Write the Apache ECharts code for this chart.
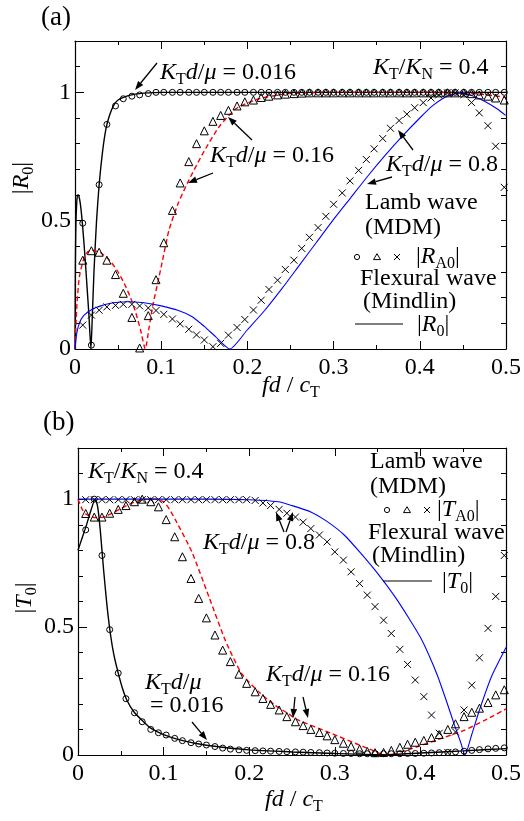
<!DOCTYPE html>
<html><head><meta charset="utf-8">
<script src="https://cdn.jsdelivr.net/npm/echarts@6/dist/echarts.min.js"></script>
<style>html,body{margin:0;padding:0;background:#fff}#c{width:524px;height:821px}</style>
</head><body><div id="c"></div>
<script>
// ---------- DATA ----------
// Lamb-wave (MDM) sampling of fd/cT
const fdLamb = [0.009,0.019,0.028,0.037,0.047,0.056,0.066,0.075,0.085,0.094,0.103,0.113,0.122,0.132,0.141,0.150,0.160,0.169,0.178,0.188,0.197,0.207,0.216,0.225,0.235,0.244,0.254,0.263,0.272,0.282,0.291,0.300,0.310,0.319,0.329,0.338,0.347,0.357,0.366,0.376,0.385,0.394,0.404,0.413,0.422,0.432,0.441,0.451,0.460,0.469,0.479,0.488,0.498];
// (a) |R_A0|
const aCircle = [0.49,0.015,0.64,0.875,0.947,0.975,0.985,0.99,0.995,1,1,1,1,1,1,1,1,1,1,1,1,1,1,1,1,1,1,1,1,1,1,1,1,1,1,1,1,1,1,1,1,1,1,1,1,1,1,1,1,1,1,1,1];
const aTriangle = [0.346,0.383,0.377,0.346,0.29,0.217,0.123,0.004,0.13,0.27,0.414,0.54,0.647,0.73,0.80,0.85,0.887,0.91,0.93,0.947,0.963,0.97,0.98,0.985,0.99,0.993,0.995,0.997,0.998,0.998,0.998,0.998,0.998,0.998,0.998,0.998,0.998,0.998,0.998,0.998,0.998,0.998,0.998,0.998,0.998,0.998,0.998,0.998,0.995,0.99,0.985,0.978,0.97];
const aCross = [0.093,0.132,0.151,0.164,0.17,0.174,0.174,0.168,0.16,0.15,0.135,0.117,0.098,0.077,0.055,0.035,0.009,0.022,0.054,0.084,0.115,0.152,0.19,0.232,0.268,0.31,0.346,0.392,0.435,0.473,0.517,0.564,0.608,0.655,0.696,0.738,0.78,0.82,0.86,0.89,0.915,0.94,0.96,0.978,0.99,0.998,0.998,0.99,0.96,0.92,0.87,0.79,0.63];
// (b) |T_A0|
const bCircle = [0.88,1.0,0.78,0.49,0.32,0.22,0.165,0.13,0.10,0.087,0.078,0.065,0.056,0.048,0.043,0.039,0.033,0.027,0.023,0.02,0.018,0.017,0.016,0.015,0.014,0.013,0.012,0.011,0.01,0.009,0.008,0.007,0.006,0.006,0.005,0.005,0.005,0.005,0.005,0.005,0.006,0.006,0.007,0.008,0.009,0.01,0.012,0.015,0.018,0.021,0.024,0.026,0.028];
const bTriangle = [0.944,0.93,0.93,0.945,0.96,0.975,0.99,1.0,0.99,0.97,0.92,0.853,0.775,0.69,0.612,0.536,0.469,0.41,0.365,0.316,0.28,0.247,0.221,0.198,0.176,0.15,0.13,0.115,0.1,0.088,0.075,0.06,0.046,0.034,0.023,0.014,0.009,0.01,0.018,0.03,0.042,0.05,0.057,0.068,0.08,0.1,0.122,0.15,0.167,0.183,0.205,0.235,0.255];
const bCross = [0.998,0.998,0.998,0.998,0.998,0.998,0.998,0.998,0.998,0.998,0.998,0.998,0.998,0.998,0.998,0.998,0.998,0.998,0.998,0.998,0.998,0.995,0.985,0.975,0.96,0.945,0.93,0.91,0.885,0.86,0.833,0.794,0.762,0.716,0.67,0.625,0.58,0.527,0.475,0.413,0.354,0.293,0.228,0.156,0.085,0.01,0.09,0.176,0.273,0.38,0.495,0.62,0.78];

// Flexural wave (Mindlin) curves
const aLine016X = [0,0.0005,0.001,0.002,0.003,0.004,0.006,0.008,0.010,0.012,0.014,0.016,0.0185,0.020,0.022,0.025,0.028,0.032,0.036,0.040,0.045,0.050,0.060,0.070,0.080,0.100,0.150,0.200,0.300,0.400,0.500];
const aLine016Y = [0,0.35,0.48,0.57,0.6,0.6,0.57,0.51,0.43,0.34,0.24,0.14,0,0.12,0.3,0.5,0.64,0.77,0.86,0.91,0.95,0.97,0.985,0.993,0.997,1,1,1,1,1,1];
const aLine016bX = [0,0.002,0.005,0.01,0.015,0.02,0.03,0.04,0.05,0.059,0.065,0.0707,0.076,0.0815,0.086,0.09,0.1,0.109,0.12,0.132,0.148,0.167,0.187,0.2135,0.248,0.3,0.4,0.45,0.47,0.49,0.5];
const aLine016bY = [0,0.16,0.28,0.35,0.38,0.385,0.375,0.346,0.3,0.242,0.195,0.139,0.075,0,0.085,0.165,0.32,0.463,0.57,0.657,0.76,0.865,0.937,0.975,0.995,1,1,0.998,0.993,0.985,0.98];
const aLine08X = [0,0.002,0.005,0.01,0.02,0.03,0.04,0.05,0.06,0.08,0.1,0.12,0.136,0.15,0.163,0.1796,0.2,0.22,0.24,0.26,0.28,0.3,0.32,0.34,0.36,0.38,0.4,0.415,0.43,0.445,0.46,0.475,0.49,0.4995];
const aLine08Y = [0,0.06,0.1,0.13,0.155,0.168,0.177,0.182,0.184,0.18,0.168,0.15,0.126,0.088,0.048,0,0.075,0.15,0.235,0.325,0.415,0.505,0.59,0.675,0.755,0.83,0.9,0.948,0.982,0.997,0.988,0.965,0.935,0.91];
const bLine016X = [0,0.005,0.01,0.015,0.02,0.023,0.026,0.03,0.034,0.038,0.042,0.047,0.052,0.057,0.065,0.075,0.085,0.1,0.12,0.15,0.2,0.25,0.3,0.36,0.4,0.45,0.5];
const bLine016Y = [0.8,0.85,0.9,0.955,1.0,0.97,0.88,0.72,0.58,0.47,0.39,0.32,0.26,0.215,0.17,0.135,0.105,0.08,0.058,0.038,0.02,0.012,0.006,0.001,0.008,0.016,0.025];
const bLine016bX = [0,0.005,0.01,0.02,0.03,0.04,0.05,0.06,0.07,0.08,0.09,0.1,0.107,0.114,0.133,0.153,0.172,0.191,0.211,0.23,0.245,0.257,0.2955,0.334,0.361,0.39,0.42,0.45,0.475,0.5];
const bLine016bY = [1.0,0.96,0.94,0.928,0.93,0.945,0.963,0.98,0.993,1.0,1.0,0.99,0.96,0.918,0.794,0.618,0.449,0.319,0.247,0.195,0.163,0.137,0.085,0.032,0,0.025,0.06,0.095,0.135,0.18];
const bLine08X = [0,0.05,0.1,0.15,0.2,0.234,0.25,0.272,0.29,0.311,0.33,0.35,0.37,0.388,0.4,0.41,0.42,0.43,0.44,0.447,0.452,0.46,0.469,0.483,0.5];
const bLine08Y = [1.0,1.0,1.0,1.0,0.998,0.99,0.975,0.95,0.915,0.86,0.79,0.71,0.62,0.527,0.46,0.39,0.31,0.215,0.115,0.05,0.0,0.08,0.176,0.306,0.42];

const xTickLabels = ['0','0.1','0.2','0.3','0.4','0.5'];
const yTickLabels = ['0','0.5','1'];

// ---------- CHART ----------
const SERIF = "'Liberation Serif','Times New Roman',serif";
const zip = (xs, ys) => xs.map((x, i) => [x, ys[i]]);
const chart = echarts.init(document.getElementById('c'), null, {renderer: 'canvas'});

const grids = [
  {left: 75, top: 41, width: 432, height: 308},
  {left: 78, top: 448, width: 432, height: 307}
];
function fmtX(v) { const s = (Math.round(v * 10) / 10).toString(); return xTickLabels.indexOf(s) >= 0 ? s : ''; }
function fmtY(v) { const r = Math.round(v * 10) / 10; const s = r.toString(); return yTickLabels.indexOf(s) >= 0 ? s : ''; }

const TICKFS = 24;
const xAxes = [], yAxes = [];
grids.forEach((g, gi) => {
  ['bottom', 'top'].forEach(pos => {
    xAxes.push({
      gridIndex: gi, type: 'value', position: pos, min: 0, max: 0.5, interval: 0.1,
      axisLine: {show: true, onZero: false, lineStyle: {color: '#000', width: 1.2}},
      axisTick: {show: true, inside: true, length: 8, lineStyle: {color: '#000', width: 1}},
      minorTick: {show: true, splitNumber: 2, length: 4, lineStyle: {color: '#000', width: 1}},
      splitLine: {show: false}, minorSplitLine: {show: false},
      axisLabel: {show: pos === 'bottom', formatter: fmtX, fontFamily: SERIF, fontSize: TICKFS, color: '#000', margin: 7}
    });
  });
  yAxes.push({
    gridIndex: gi, type: 'value', position: 'left', min: 0, max: 1.2, interval: 0.1,
    axisLine: {show: true, onZero: false, lineStyle: {color: '#000', width: 1.2}},
    axisTick: {show: true, inside: true, length: 5, lineStyle: {color: '#000', width: 1}},
    splitLine: {show: false},
    axisLabel: {show: true, formatter: fmtY, fontFamily: SERIF, fontSize: TICKFS, color: '#000', margin: 4}
  });
  yAxes.push({
    gridIndex: gi, type: 'value', position: 'left', min: 0, max: 1.2, interval: 0.5,
    axisLine: {show: false},
    axisTick: {show: true, inside: true, length: 9, lineStyle: {color: '#000', width: 1}},
    splitLine: {show: false}, axisLabel: {show: false}
  });
  yAxes.push({
    gridIndex: gi, type: 'value', position: 'right', min: 0, max: 1.2, interval: 0.1,
    axisLine: {show: true, onZero: false, lineStyle: {color: '#000', width: 1.2}},
    axisTick: {show: true, inside: true, length: 5, lineStyle: {color: '#000', width: 1}},
    splitLine: {show: false}, axisLabel: {show: false}
  });
});

const crossPath = 'path://M0,0L10,10M10,0L0,10';
function lineS(gi, xs, ys, color, type, width) {
  return {type: 'line', xAxisIndex: gi * 2, yAxisIndex: gi * 3, data: zip(xs, ys), showSymbol: false,
    smooth: 0.2, lineStyle: {color: color, width: width, type: type}, z: 2, clip: true};
}
function scat(gi, ys, symbol, size) {
  return {type: 'scatter', xAxisIndex: gi * 2, yAxisIndex: gi * 3, data: zip(fdLamb, ys), symbol: symbol, symbolSize: size,
    itemStyle: {color: 'rgba(0,0,0,0)', borderColor: '#000', borderWidth: 1, opacity: 1}, z: 3, clip: false};
}
const series = [
  lineS(0, aLine016X, aLine016Y, '#000', 'solid', 1.4),
  lineS(0, aLine016bX, aLine016bY, '#ff0000', [5, 3], 1.4),
  lineS(0, aLine08X, aLine08Y, '#0000ff', 'solid', 1.1),
  scat(0, aCircle, 'circle', 6),
  scat(0, aTriangle, 'triangle', 8),
  scat(0, aCross, crossPath, 7),
  lineS(1, bLine016X, bLine016Y, '#000', 'solid', 1.4),
  lineS(1, bLine016bX, bLine016bY, '#ff0000', [5, 3], 1.4),
  lineS(1, bLine08X, bLine08Y, '#0000ff', 'solid', 1.1),
  scat(1, bCircle, 'circle', 6),
  scat(1, bTriangle, 'triangle', 8),
  scat(1, bCross, crossPath, 7)
];

// ---------- TEXT / ANNOTATIONS ----------
function rich(fs) {
  const sub = Math.round(fs * 0.66);
  return {
    i: {fontFamily: SERIF, fontStyle: 'italic', fontSize: fs, fill: '#000'},
    r: {fontFamily: SERIF, fontSize: fs, fill: '#000'},
    s: {fontFamily: SERIF, fontSize: sub, fill: '#000', padding: [Math.round(fs * 0.55), 0, 0, 0]}
  };
}
function txt(x, y, text, fs, align, rot) {
  return {type: 'text', x: x, y: y, rotation: rot || 0, z: 100,
    style: {text: text, fontFamily: SERIF, fontSize: fs, fill: '#000', rich: rich(fs),
      align: align || 'left', verticalAlign: 'middle', textAlign: align || 'left', textVerticalAlign: 'middle'}};
}
function arrow(x1, y1, x2, y2) {
  const a = Math.atan2(y2 - y1, x2 - x1), L = 9, W = 3.3;
  const c = Math.cos(a), s = Math.sin(a);
  const bx = x2 - L * c, by = y2 - L * s;
  return [
    {type: 'line', z: 100, shape: {x1: x1, y1: y1, x2: bx, y2: by}, style: {stroke: '#000', lineWidth: 1.3}},
    {type: 'polygon', z: 100, shape: {points: [[x2, y2], [bx + W * s, by - W * c], [bx - W * s, by + W * c]]}, style: {fill: '#000'}}
  ];
}
function legendMarks(cx1, cx2, cx3, cy) {
  return [
    {type: 'circle', z: 100, shape: {cx: cx1, cy: cy, r: 2.6}, style: {fill: 'none', stroke: '#000', lineWidth: 1}},
    {type: 'polygon', z: 100, shape: {points: [[cx2, cy - 3.3], [cx2 + 3.5, cy + 2.6], [cx2 - 3.5, cy + 2.6]]}, style: {fill: 'none', stroke: '#000', lineWidth: 1}},
    {type: 'line', z: 100, shape: {x1: cx3 - 3, y1: cy - 3, x2: cx3 + 3, y2: cy + 3}, style: {stroke: '#000', lineWidth: 1}},
    {type: 'line', z: 100, shape: {x1: cx3 - 3, y1: cy + 3, x2: cx3 + 3, y2: cy - 3}, style: {stroke: '#000', lineWidth: 1}}
  ];
}
const FS = 24;
const KD = '{i|K}{s|T}{i|d}{r|/}{i|μ}';
const graphics = [
  txt(41, 18, '(a)', 27),
  txt(43, 423, '(b)', 27),
  txt(22, 178, '|{i|R}{s|0}|', FS, 'center', Math.PI / 2),
  txt(25, 598, '|{i|T}{s|0}|', FS, 'center', Math.PI / 2),
  txt(291, 386, '{i|fd} / {i|c}{s|T}', FS, 'center'),
  txt(294, 800, '{i|fd} / {i|c}{s|T}', FS, 'center'),
  // panel (a)
  txt(160, 73, KD + '{r| = 0.016}', FS),
  txt(373, 68, '{i|K}{s|T}{r|/}{i|K}{s|N}{r| = 0.4}', FS),
  txt(210, 156, KD + '{r| = 0.16}', FS),
  txt(386, 165, KD + '{r| = 0.8}', FS),
  txt(365, 203, 'Lamb wave', FS),
  txt(365, 228, '(MDM)', FS),
  txt(416, 257, '|{i|R}{s|A0}|', FS),
  txt(360, 279, 'Flexural wave', FS),
  txt(363, 302, '(Mindlin)', FS),
  txt(417, 325, '|{i|R}{s|0}|', FS),
  {type: 'line', z: 100, shape: {x1: 355, y1: 324, x2: 403, y2: 324}, style: {stroke: '#000', lineWidth: 1.2}},
  // panel (b)
  txt(88, 472, '{i|K}{s|T}{r|/}{i|K}{s|N}{r| = 0.4}', FS),
  txt(203, 543, KD + '{r| = 0.8}', FS),
  txt(145, 683, KD, FS),
  txt(150, 706, '= 0.016', FS),
  txt(266, 675, KD + '{r| = 0.16}', FS),
  txt(370, 462, 'Lamb wave', FS),
  txt(370, 487, '(MDM)', FS),
  txt(437, 510, '|{i|T}{s|A0}|', FS),
  txt(368, 533, 'Flexural wave', FS),
  txt(372, 556, '(Mindlin)', FS),
  txt(442, 582, '|{i|T}{s|0}|', FS),
  {type: 'line', z: 100, shape: {x1: 383, y1: 581, x2: 432, y2: 581}, style: {stroke: '#000', lineWidth: 1.2}}
].concat(
  legendMarks(357, 377, 397, 257),
  legendMarks(387, 407, 427, 510),
  arrow(157, 63, 135, 90),
  arrow(252, 140, 228, 117),
  arrow(213, 173, 188, 183),
  arrow(413, 150, 398, 130),
  arrow(392, 177, 367, 184),
  arrow(284, 532, 276, 512),
  arrow(286, 532, 293, 512),
  arrow(192, 722, 207, 740),
  arrow(295, 697, 293, 718),
  arrow(303, 697, 308, 718)
);

chart.setOption({
  animation: false,
  backgroundColor: '#fff',
  textStyle: {fontFamily: SERIF},
  grid: grids,
  xAxis: xAxes,
  yAxis: yAxes,
  series: series,
  graphic: graphics
});
</script></body></html>
